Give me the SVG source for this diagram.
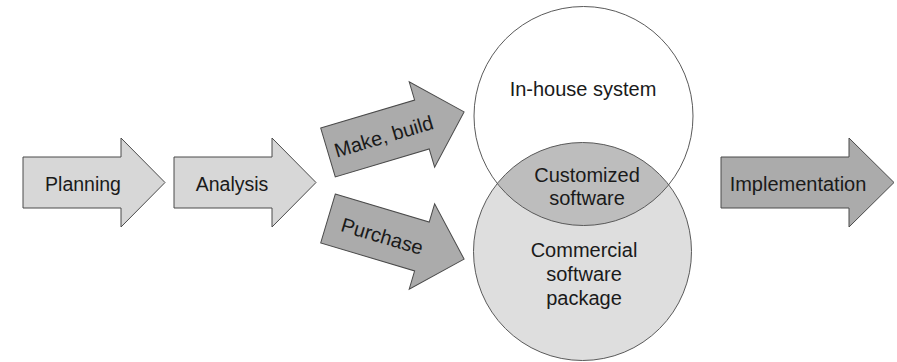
<svg xmlns="http://www.w3.org/2000/svg" width="897" height="362" viewBox="0 0 897 362">
  <style>
    .arrow { stroke: #4a4a4a; stroke-width: 1; stroke-linejoin: miter; }
    .light { fill: #d7d7d7; }
    .dark { fill: #ababab; }
    .label { font-family: "Liberation Sans", Arial, Helvetica, sans-serif; font-size: 20px; fill: #1a1a1a; text-anchor: middle; }
    .small { font-size: 19.5px; }
    .ring { fill: none; stroke: #5a5a5a; stroke-width: 1; }
  </style>
  <defs>
    <path id="arrowShort" d="M0,-25.5 H98 V-44.5 L142,0 L98,44.5 V25.5 H0 Z"/>
    <path id="arrowLong" d="M0,-25.5 H128 V-44.5 L173,0 L128,44.5 V25.5 H0 Z"/>
    <clipPath id="clipBottom">
      <circle cx="582.5" cy="251.5" r="109"/>
    </clipPath>
  </defs>
  <rect width="897" height="362" fill="#ffffff"/>

  <g id="planning" transform="translate(23,182.5)">
    <use href="#arrowShort" class="arrow light"/>
    <text class="label small" x="60" y="8.5">Planning</text>
  </g>

  <g id="analysis" transform="translate(174,182.5)">
    <use href="#arrowShort" class="arrow light"/>
    <text class="label small" x="58" y="8.5">Analysis</text>
  </g>

  <g id="make-build" transform="translate(328,152.5) rotate(-16.6)">
    <use href="#arrowShort" class="arrow dark"/>
    <text class="label" x="58" y="7.5">Make, build</text>
  </g>

  <g id="purchase" transform="translate(328,218.5) rotate(16.6)">
    <use href="#arrowShort" class="arrow dark"/>
    <text class="label" x="57" y="8.5">Purchase</text>
  </g>

  <g id="commercial-software-package">
    <circle cx="582.5" cy="251.5" r="109" fill="#dedede"/>
  </g>

  <g id="customized-software">
    <circle cx="583.5" cy="116" r="109.5" fill="#bdbdbd" clip-path="url(#clipBottom)"/>
  </g>

  <g id="in-house-system">
    <circle class="ring" cx="583.5" cy="116" r="109.5"/>
    <text class="label" x="583" y="96">In-house system</text>
  </g>

  <g id="commercial-outline">
    <circle class="ring" cx="582.5" cy="251.5" r="109"/>
    <text class="label" x="584" y="257">Commercial</text>
    <text class="label" x="584" y="281">software</text>
    <text class="label" x="584" y="305">package</text>
  </g>

  <g id="customized-labels">
    <text class="label" x="587" y="182">Customized</text>
    <text class="label" x="587" y="205">software</text>
  </g>

  <g id="implementation" transform="translate(721,182.5)">
    <use href="#arrowLong" class="arrow dark"/>
    <text class="label" x="77" y="8.5">Implementation</text>
  </g>

  <g id="connectors"></g>
</svg>
